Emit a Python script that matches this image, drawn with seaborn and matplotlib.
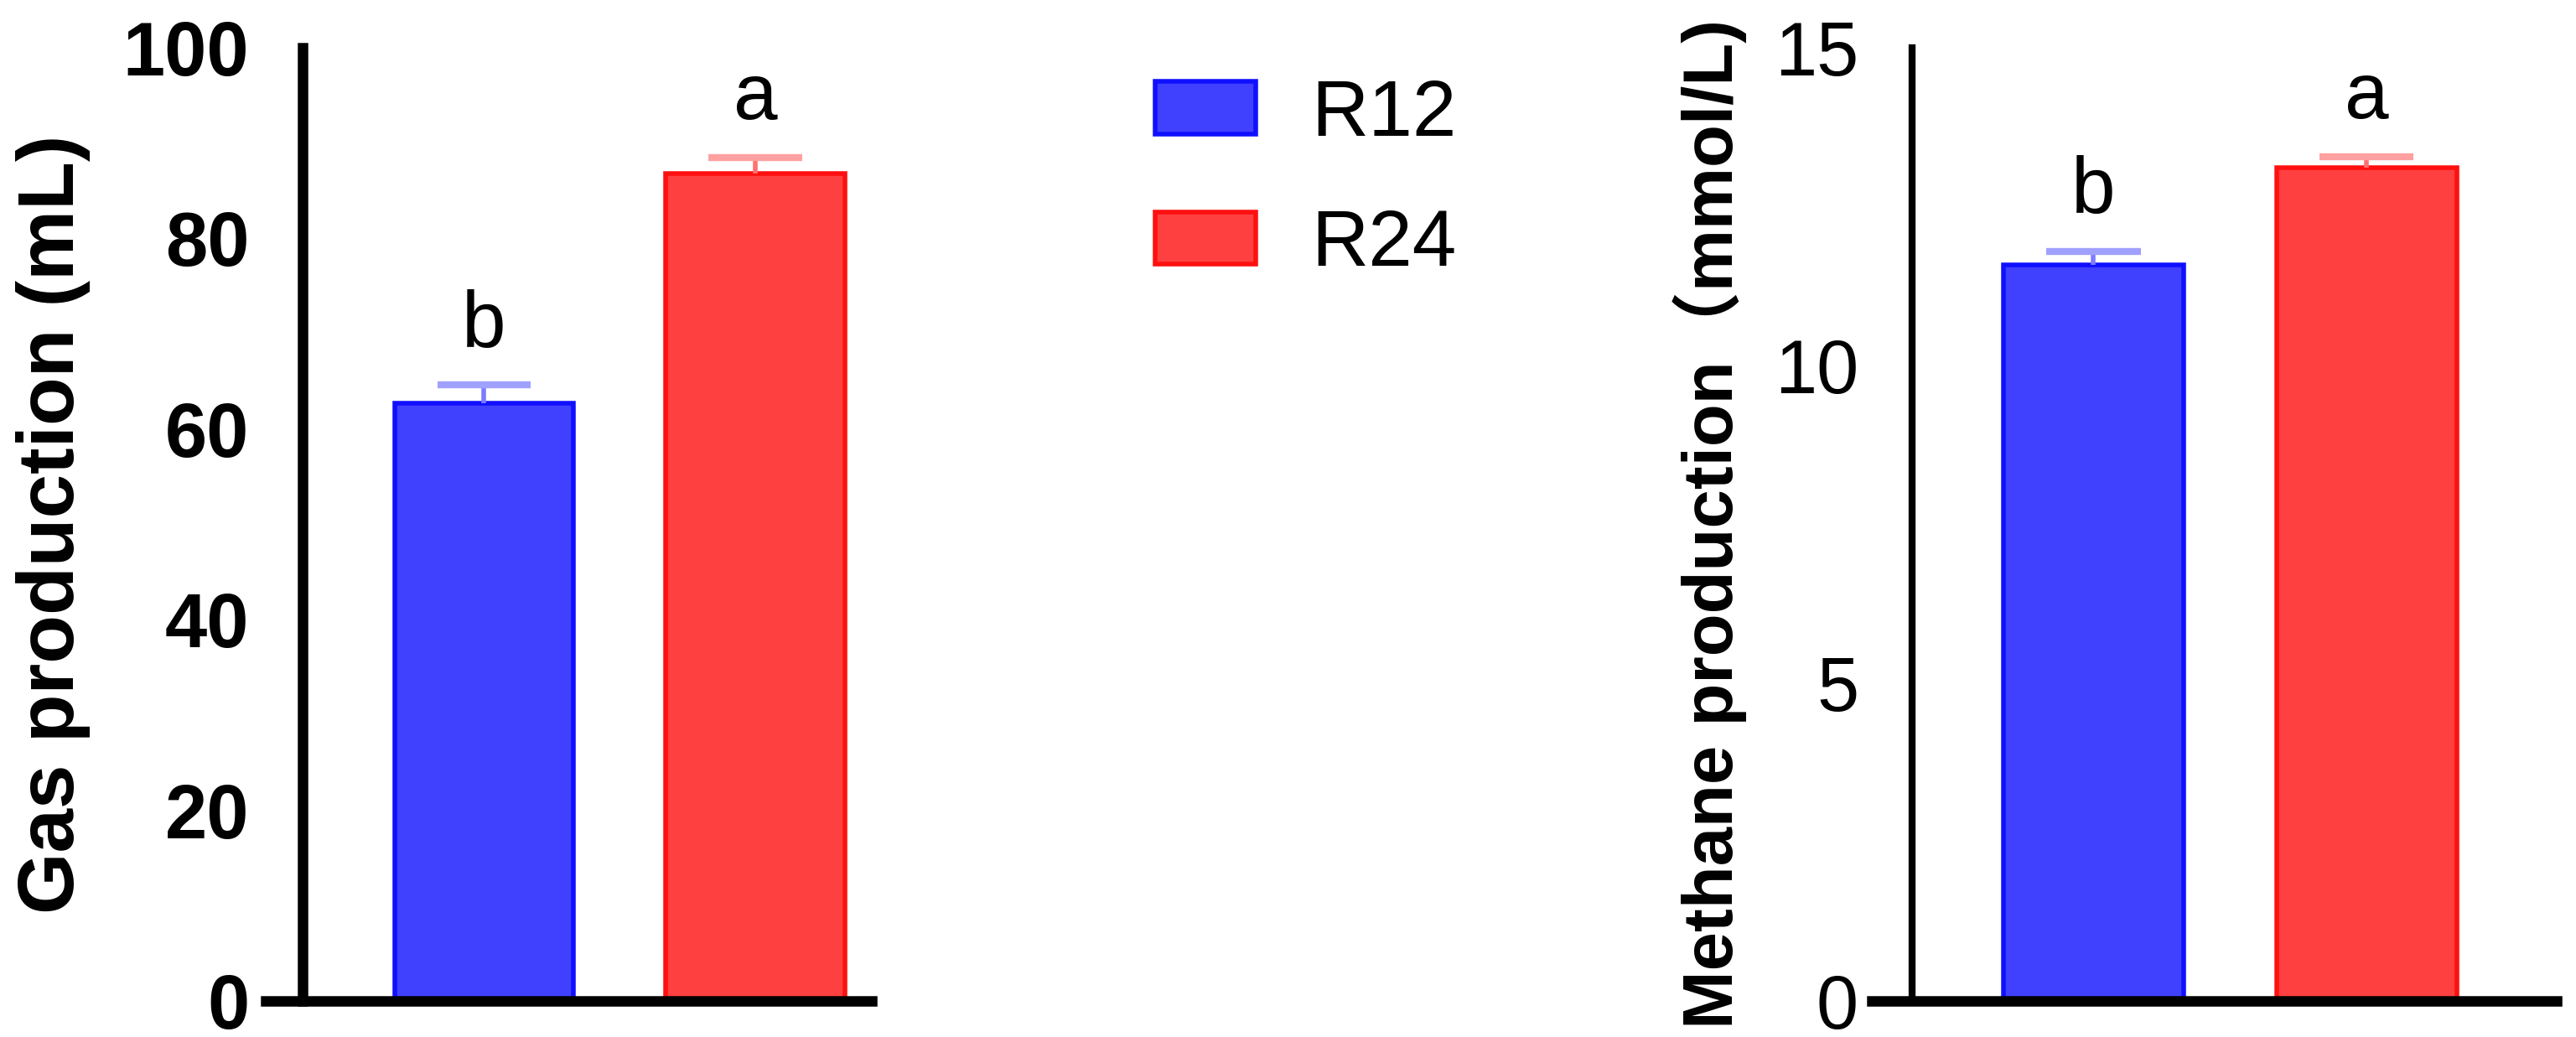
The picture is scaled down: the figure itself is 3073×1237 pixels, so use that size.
import numpy as np
import pandas as pd
import matplotlib
matplotlib.use("Agg")
import matplotlib.pyplot as plt
from matplotlib.patches import Patch
import seaborn as sns

# data
groups = ["R12", "R24"]
gas_mean = [62.7, 86.8]
gas_err = [1.9, 1.7]
methane_mean = [11.58, 13.11]
methane_err = [0.22, 0.17]
letters = ["b", "a"]

fill_colors = ["#4040ff", "#ff4040"]
edge_colors = ["#1010ff", "#ff1010"]
cap_colors = ["#a0a0ff", "#ffa0a0"]
stem_colors = ["#7c7cff", "#ff7070"]

sns.set_style("white")
plt.rcParams['font.family'] = ['Liberation Sans', 'Noto Sans CJK SC']
plt.rcParams['text.color'] = 'black'
plt.rcParams['axes.labelcolor'] = 'black'
plt.rcParams['ytick.color'] = 'black'

fig = plt.figure(figsize=(30.73, 12.37), dpi=100)
ax1 = fig.add_axes([0.11748, 0.03476, 0.22095, 0.9192])
ax2 = fig.add_axes([0.74227, 0.03476, 0.25024, 0.9192])


def draw_panel(ax, means, errs, xlim, ylim, yticks, ylabel, label_size, labelpad,
               tick_weight, tick_len, tick_pad, spine_w):
    df = pd.DataFrame({"group": groups, "value": means})
    sns.barplot(data=df, x="group", y="value", hue="group", palette=fill_colors,
                saturation=1, width=0.66, errorbar=None, legend=False,
                linewidth=4, ax=ax)
    for patch, ec in zip(ax.patches, edge_colors):
        patch.set_edgecolor(ec)
        patch.set_zorder(2)

    # upper error bars only (stem + cap)
    cap_w = 0.345
    for i, (m, e) in enumerate(zip(means, errs)):
        ax.vlines(i, m, m + e, color=stem_colors[i], linewidth=4, zorder=3)
        ax.hlines(m + e, i - cap_w / 2, i + cap_w / 2, color=cap_colors[i],
                  linewidth=6, zorder=3)
        ax.annotate(letters[i], (i, m + e), xytext=(0, 33), textcoords="offset points",
                    ha="center", va="baseline", fontsize=68)

    ax.set_xlim(*xlim)
    ax.set_ylim(*ylim)
    ax.set_yticks(yticks)
    ax.set_xticks([])
    ax.set_xlabel("")
    ax.set_ylabel(ylabel, fontsize=label_size, fontweight="bold", labelpad=labelpad)
    ax.tick_params(axis="y", direction="out", length=tick_len, width=spine_w,
                   pad=tick_pad, labelsize=65)
    for lab in ax.get_yticklabels():
        lab.set_fontweight(tick_weight)
    for side in ["top", "right"]:
        ax.spines[side].set_visible(False)
    ax.spines["left"].set_linewidth(spine_w)
    ax.spines["bottom"].set_linewidth(9)
    for side in ["left", "bottom"]:
        ax.spines[side].set_color("black")
    # x axis runs out to the tick ends, as in the original
    px_per_unit = ax.get_window_extent().width / (xlim[1] - xlim[0])
    ax.spines["bottom"].set_bounds(xlim[0] - tick_len / 0.72 / px_per_unit, xlim[1])


draw_panel(ax1, gas_mean, gas_err, (-0.669, 1.43), (0, 100), [0, 20, 40, 60, 80, 100],
           "Gas production (mL)", 68, 28, "bold", 32, 14, 9)
draw_panel(ax2, methane_mean, methane_err, (-0.665, 1.697), (0, 15), [0, 5, 10, 15],
           "Methane production（mmol/L)", 60, 24, "normal", 34.5, 11.5, 6)

handles = [Patch(facecolor=fill_colors[i], edgecolor=edge_colors[i], linewidth=4, label=groups[i])
           for i in range(2)]
fig.legend(handles=handles, loc="upper left", bbox_to_anchor=(0.4484, 0.9249),
           frameon=False, fontsize=68, handlelength=1.27, handleheight=0.64,
           handletextpad=0.7, labelspacing=0.7, borderpad=0, borderaxespad=0)

fig.savefig("out.png", dpi=100)
